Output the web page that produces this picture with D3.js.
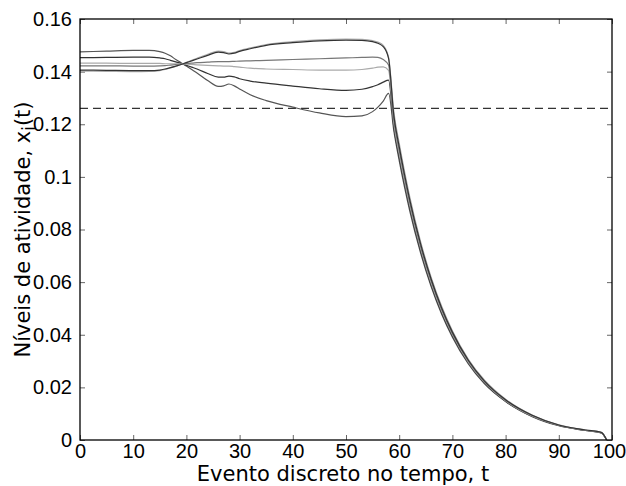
<!DOCTYPE html>
<html>
<head>
<meta charset="utf-8">
<script src="https://cdn.jsdelivr.net/npm/d3@7"></script>
<style>
  body { margin: 0; background: #fff; }
  svg { display: block; }
</style>
</head>
<body>
<svg width="626" height="486"></svg>
<script>
// eventos discretos (t)
const tempo = [0, 5, 10, 13, 15, 16, 17, 18, 19, 20, 21, 22, 24, 26, 27, 28, 29, 30, 32, 35,
  40, 45, 50, 53, 55, 56, 57, 58, 59, 60, 61, 62, 64, 66, 68, 70, 73, 76, 80, 85, 90, 95, 98, 99];

// niveis de atividade x_i(t)
const x1 = [0.1475, 0.1478, 0.1481, 0.1481, 0.1476, 0.1470, 0.1460, 0.1446, 0.1434, 0.1421,
  0.1408, 0.1395, 0.1366, 0.1344, 0.1346, 0.1353, 0.1346, 0.1334, 0.1312, 0.1290,
  0.1265, 0.1243, 0.1229, 0.1232, 0.1248, 0.1265, 0.1288, 0.1317,
  0.1174, 0.1062, 0.0961, 0.0869, 0.0712, 0.0583, 0.0477, 0.0391, 0.0289, 0.0214, 0.0146, 0.0089, 0.0054, 0.0036, 0.0027, 0];
const x2 = [0.1453, 0.1454, 0.1455, 0.1455, 0.1452, 0.1449, 0.1443, 0.1437, 0.1431, 0.1424,
  0.1417, 0.1410, 0.1393, 0.1379, 0.1379, 0.1383, 0.1380, 0.1373, 0.1364, 0.1356,
  0.1345, 0.1335, 0.1329, 0.1333, 0.1343, 0.1350, 0.1360, 0.1368,
  0.1188, 0.1075, 0.0973, 0.0880, 0.0721, 0.0590, 0.0483, 0.0396, 0.0293, 0.0217, 0.0147, 0.0090, 0.0055, 0.0036, 0.0027, 0];
const x3 = [0.1432, 0.1432, 0.1431, 0.1431, 0.1431, 0.1430, 0.1430, 0.1430, 0.1429, 0.1428,
  0.1427, 0.1426, 0.1424, 0.1422, 0.1421, 0.1421, 0.1419, 0.1417, 0.1413, 0.1410,
  0.1408, 0.1406, 0.1406, 0.1408, 0.1413, 0.1417, 0.1418, 0.1405,
  0.1203, 0.1088, 0.0985, 0.0891, 0.0730, 0.0597, 0.0489, 0.0401, 0.0296, 0.0220, 0.0149, 0.0091, 0.0056, 0.0037, 0.0028, 0];
const x4 = [0.1422, 0.1422, 0.1421, 0.1421, 0.1422, 0.1423, 0.1425, 0.1427, 0.1429, 0.1431,
  0.1432, 0.1434, 0.1436, 0.1438, 0.1438, 0.1438, 0.1439, 0.1440, 0.1441, 0.1443,
  0.1446, 0.1449, 0.1452, 0.1454, 0.1455, 0.1454, 0.1446, 0.1425,
  0.1217, 0.1102, 0.0997, 0.0901, 0.0738, 0.0605, 0.0495, 0.0405, 0.0300, 0.0222, 0.0151, 0.0093, 0.0056, 0.0037, 0.0028, 0];
const x5 = [0.1406, 0.1405, 0.1404, 0.1404, 0.1406, 0.1410, 0.1415, 0.1421, 0.1427, 0.1434,
  0.1441, 0.1448, 0.1462, 0.1474, 0.1472, 0.1467, 0.1470, 0.1477, 0.1487, 0.1500,
  0.1510, 0.1517, 0.1520, 0.1519, 0.1514, 0.1508, 0.1495, 0.1450,
  0.1232, 0.1115, 0.1009, 0.0912, 0.0747, 0.0612, 0.0501, 0.0410, 0.0303, 0.0225, 0.0153, 0.0094, 0.0057, 0.0038, 0.0029, 0];
const x6 = [0.1402, 0.1401, 0.1400, 0.1401, 0.1404, 0.1408, 0.1414, 0.1420, 0.1427, 0.1435,
  0.1443, 0.1451, 0.1466, 0.1478, 0.1476, 0.1470, 0.1473, 0.1480, 0.1490, 0.1503,
  0.1514, 0.1521, 0.1524, 0.1523, 0.1518, 0.1512, 0.1500, 0.1455,
  0.1246, 0.1128, 0.1021, 0.0923, 0.0756, 0.0619, 0.0507, 0.0415, 0.0307, 0.0228, 0.0155, 0.0095, 0.0058, 0.0038, 0.0029, 0];

const limiar = 0.126;

const xTicks = [0, 10, 20, 30, 40, 50, 60, 70, 80, 90, 100];
const yTicks = [0, 0.02, 0.04, 0.06, 0.08, 0.1, 0.12, 0.14, 0.16];
const yTickLabels = ['0', '0.02', '0.04', '0.06', '0.08', '0.1', '0.12', '0.14', '0.16'];

const series = [
  { values: x1, color: '#555' },
  { values: x2, color: '#333' },
  { values: x3, color: '#aaa' },
  { values: x4, color: '#777' },
  { values: x6, color: '#aaa' },
  { values: x5, color: '#333' }
];

const svg = d3.select('svg');
const plotLeft = 80, plotRight = 612, plotTop = 19, plotBottom = 440;

const x = d3.scaleLinear().domain([0, 100]).range([plotLeft, plotRight]);
const y = d3.scaleLinear().domain([0, 0.16]).range([plotBottom, plotTop]);

const tickFont = '"Liberation Sans", Arial, sans-serif';
const labelFont = '"DejaVu Sans", Verdana, sans-serif';

// eixos com marcas para dentro
const axB = svg.append('g').attr('transform', `translate(0,${plotBottom})`)
  .call(d3.axisBottom(x).tickValues(xTicks).tickFormat(d3.format('d'))
    .tickSizeInner(-5).tickSizeOuter(0).tickPadding(4));
const axT = svg.append('g').attr('transform', `translate(0,${plotTop})`)
  .call(d3.axisTop(x).tickValues(xTicks).tickFormat('').tickSizeInner(-5).tickSizeOuter(0));
const axL = svg.append('g').attr('transform', `translate(${plotLeft},0)`)
  .call(d3.axisLeft(y).tickValues(yTicks).tickFormat((d, i) => yTickLabels[i])
    .tickSizeInner(-5).tickSizeOuter(0).tickPadding(8));
const axR = svg.append('g').attr('transform', `translate(${plotRight},0)`)
  .call(d3.axisRight(y).tickValues(yTicks).tickFormat('').tickSizeInner(-5).tickSizeOuter(0));

[axB, axT, axL, axR].forEach(g => {
  g.select('.domain').remove();
  g.selectAll('.tick line').attr('stroke', '#666').attr('stroke-width', 1);
  g.selectAll('.tick text').attr('fill', '#000').style('font-family', tickFont).style('font-size', '20px');
});
// o rotulo "100" fica junto da borda direita
axB.selectAll('.tick text').filter(d => d === 100).attr('dx', -3);

// linha tracejada
svg.append('line')
  .attr('x1', x(0)).attr('x2', x(100))
  .attr('y1', y(limiar)).attr('y2', y(limiar))
  .attr('stroke', '#333').attr('stroke-width', 1.2)
  .attr('stroke-dasharray', '8,5');

const line = d3.line()
  .x((d, i) => x(tempo[i]))
  .y(d => y(d))
  .curve(d3.curveMonotoneX);

svg.append('g').selectAll('path')
  .data(series)
  .enter()
  .append('path')
  .attr('d', d => line(d.values))
  .attr('fill', 'none')
  .attr('stroke', d => d.color)
  .attr('stroke-width', 1.2);

// moldura
svg.append('rect')
  .attr('x', plotLeft).attr('y', plotTop)
  .attr('width', plotRight - plotLeft).attr('height', plotBottom - plotTop)
  .attr('fill', 'none').attr('stroke', '#000').attr('stroke-width', 1.3);

// rotulos
svg.append('text')
  .attr('x', (plotLeft + plotRight) / 2 - 3).attr('y', 481)
  .attr('text-anchor', 'middle')
  .style('font-family', labelFont).style('font-size', '21px')
  .text('Evento discreto no tempo, t');

const yl = svg.append('text')
  .attr('transform', `translate(30,${(plotTop + plotBottom) / 2}) rotate(-90)`)
  .attr('text-anchor', 'middle')
  .style('font-family', labelFont).style('font-size', '21px');
yl.append('tspan').text('Níveis de atividade, x');
yl.append('tspan').attr('dy', 5).style('font-size', '17px').text('i');
yl.append('tspan').attr('dy', -5).text('(t)');
</script>
</body>
</html>
